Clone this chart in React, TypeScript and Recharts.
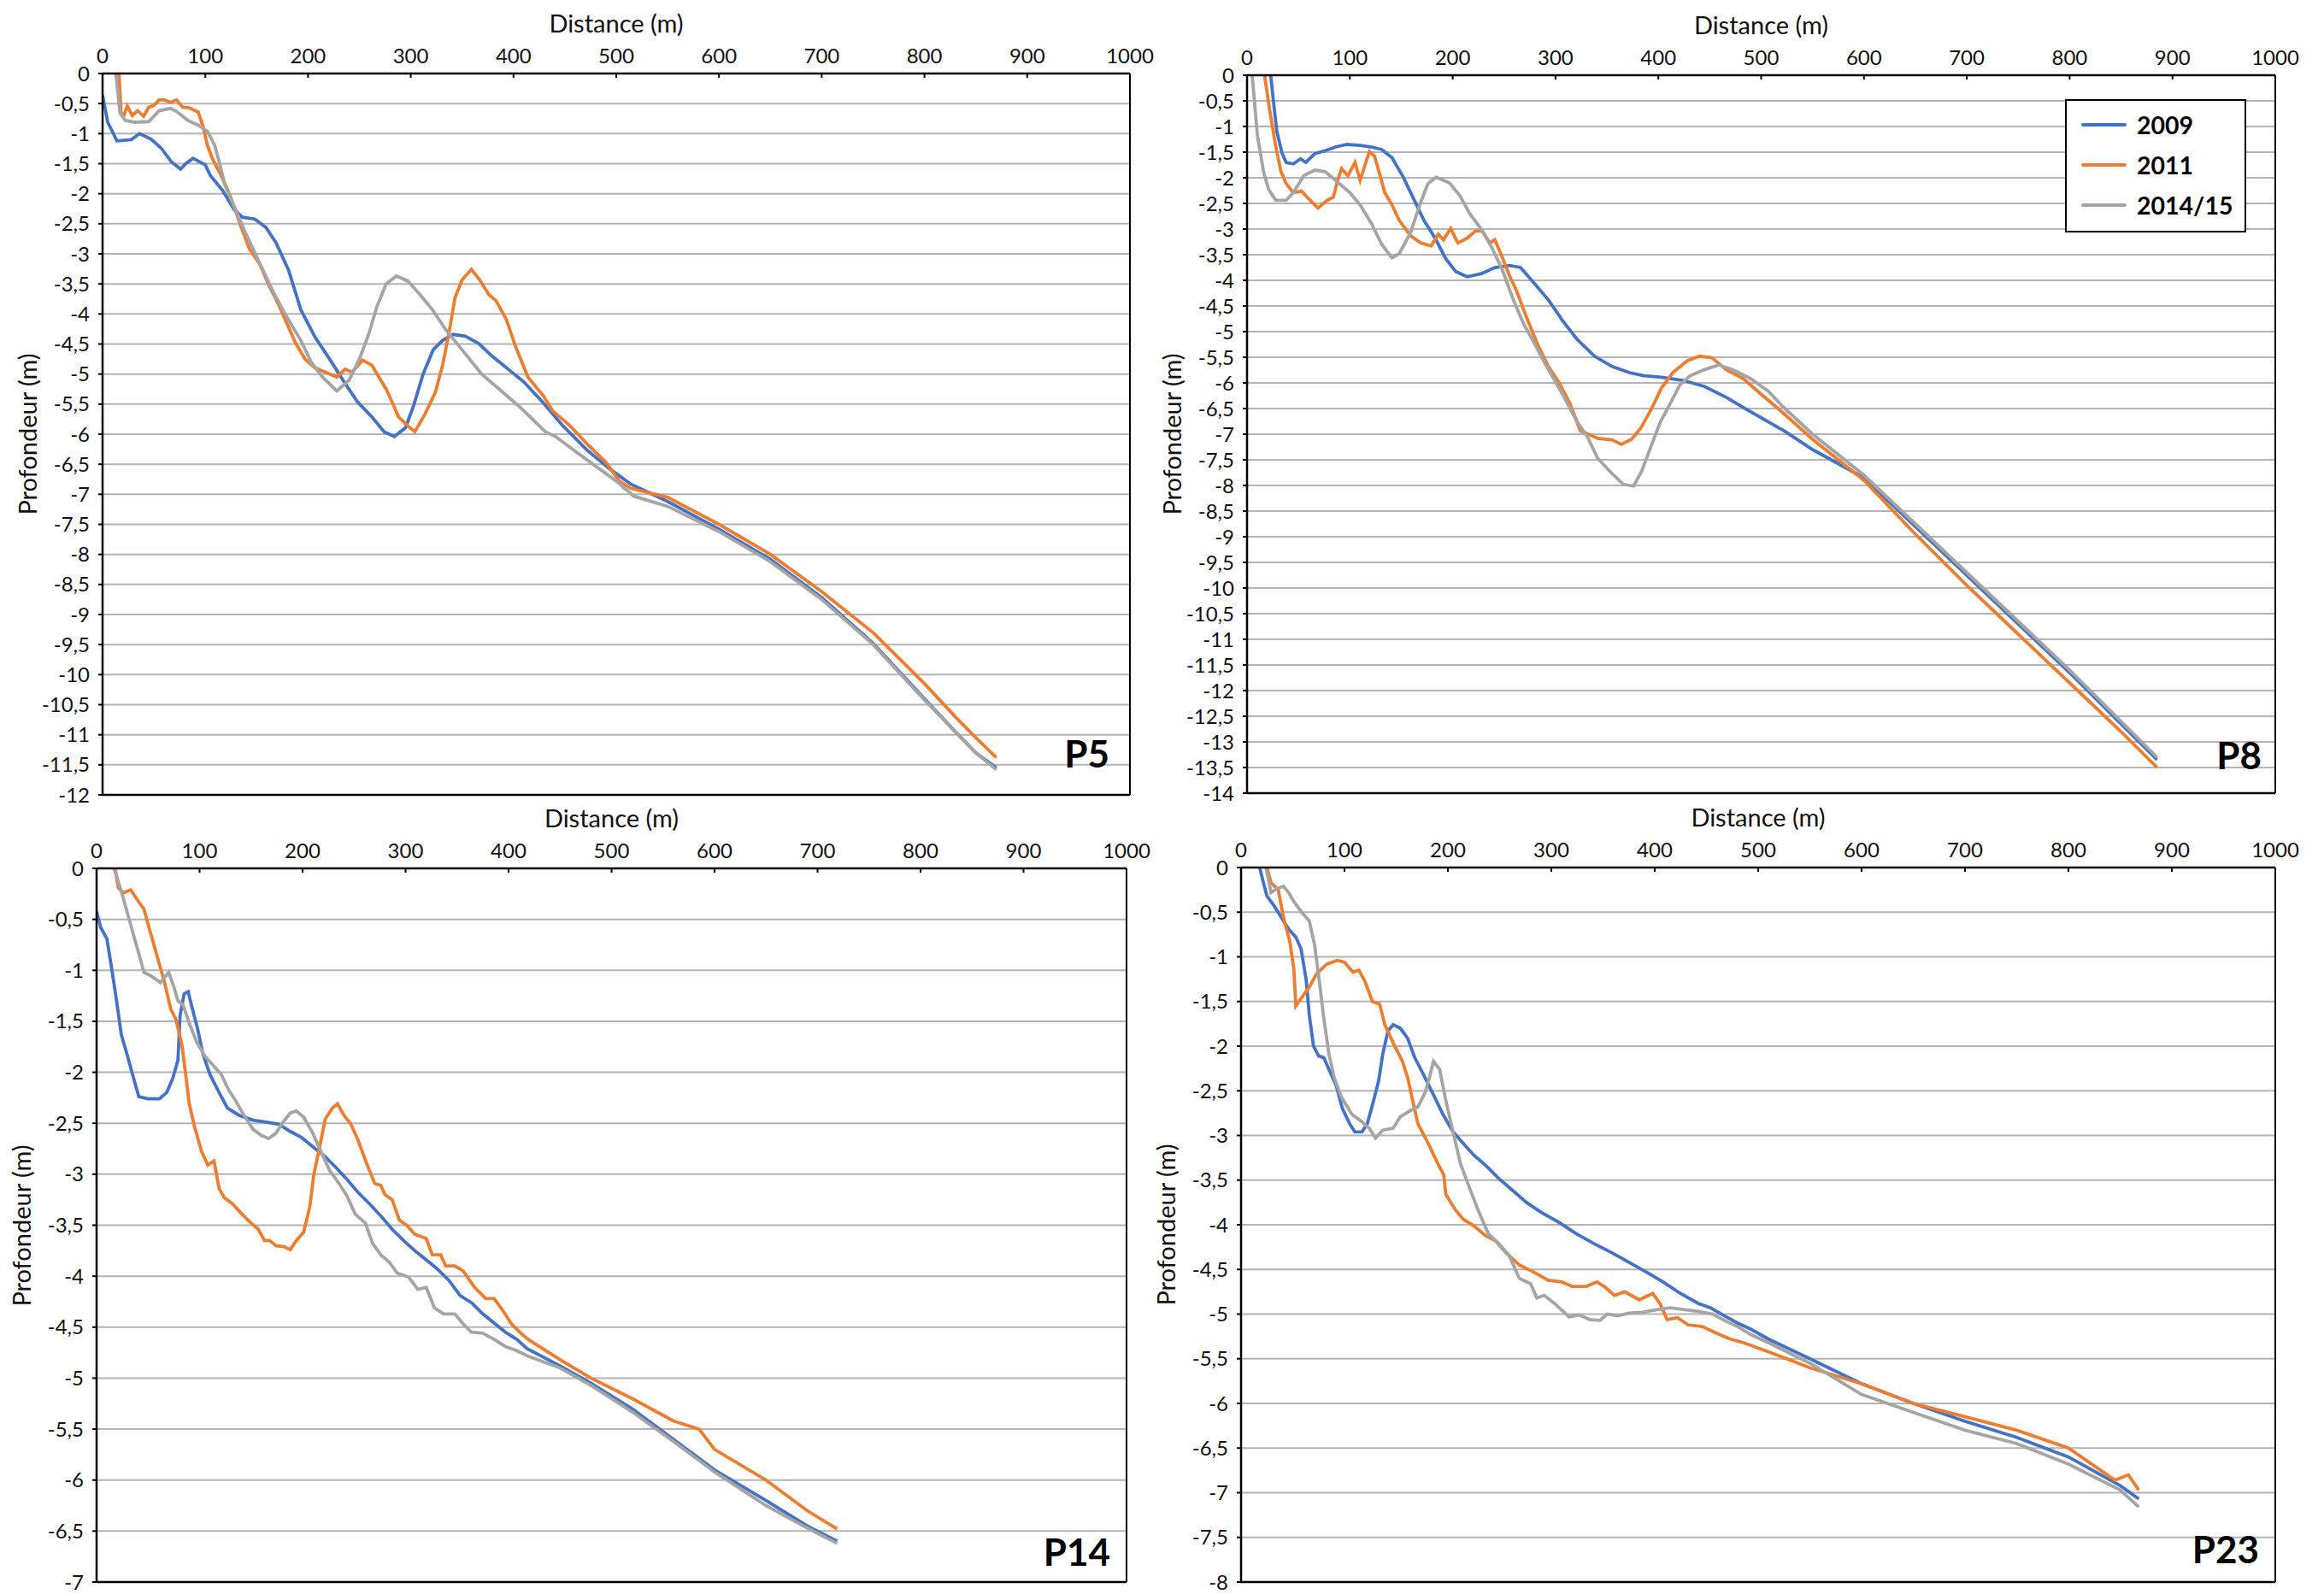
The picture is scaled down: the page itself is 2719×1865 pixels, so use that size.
import React from "react";
import {
  LineChart,
  Line,
  XAxis,
  YAxis,
  CartesianGrid,
  ReferenceLine,
  Legend,
} from "recharts";

type Pt = [number, number];

const SERIES_NAMES = ["2009", "2011", "2014/15"];
const SERIES_COLORS = ["#4472C4", "#ED7D31", "#A5A5A5"];
const X_TICKS = [0, 100, 200, 300, 400, 500, 600, 700, 800, 900, 1000];

// P5 profiles (distance m, depth m)
const P5_2009: Pt[] = [
  [0, -0.36], [5, -0.81], [14, -1.12], [28, -1.1], [36, -1.0], [47, -1.09], [57, -1.24],
  [67, -1.47], [76, -1.59], [81, -1.5], [88, -1.41], [100, -1.52], [105, -1.7], [117, -1.95],
  [128, -2.26], [136, -2.39], [148, -2.42], [159, -2.56], [169, -2.82], [181, -3.27],
  [193, -3.93], [207, -4.39], [221, -4.75], [234, -5.1], [248, -5.46], [262, -5.71],
  [274, -5.96], [284, -6.04], [295, -5.89], [303, -5.51], [312, -5.0], [322, -4.59],
  [331, -4.44], [341, -4.34], [353, -4.37], [366, -4.49], [379, -4.7], [397, -4.95],
  [410, -5.13], [428, -5.46], [448, -5.86], [472, -6.27], [493, -6.57], [514, -6.83],
  [550, -7.12], [600, -7.58], [650, -8.08], [700, -8.72], [750, -9.48], [800, -10.4],
  [830, -10.95], [850, -11.3], [870, -11.55],
];
const P5_2011: Pt[] = [
  [16, 0], [18, -0.66], [21, -0.69], [24, -0.54], [29, -0.7], [34, -0.62], [40, -0.71],
  [45, -0.56], [50, -0.53], [55, -0.44], [60, -0.44], [66, -0.48], [72, -0.44], [78, -0.56],
  [84, -0.57], [93, -0.64], [98, -0.89], [102, -1.19], [107, -1.42], [114, -1.65],
  [121, -1.9], [128, -2.21], [134, -2.51], [143, -2.92], [153, -3.17], [162, -3.53],
  [171, -3.83], [179, -4.14], [188, -4.49], [197, -4.75], [207, -4.9], [217, -4.97],
  [228, -5.05], [236, -4.92], [243, -4.97], [253, -4.77], [262, -4.85], [269, -5.05],
  [276, -5.25], [283, -5.51], [288, -5.71], [297, -5.86], [304, -5.96], [314, -5.66],
  [324, -5.3], [331, -4.85], [338, -4.24], [343, -3.73], [350, -3.43], [359, -3.26],
  [367, -3.43], [376, -3.68], [383, -3.78], [393, -4.09], [402, -4.54], [414, -5.05],
  [429, -5.36], [438, -5.61], [455, -5.86], [472, -6.17], [490, -6.47], [503, -6.78],
  [514, -6.9], [550, -7.05], [600, -7.5], [650, -8.0], [700, -8.62], [750, -9.3],
  [800, -10.15], [830, -10.7], [850, -11.05], [870, -11.38],
];
const P5_2014: Pt[] = [
  [13, 0], [17, -0.66], [22, -0.78], [31, -0.81], [45, -0.8], [55, -0.62], [66, -0.58],
  [72, -0.63], [83, -0.78], [93, -0.86], [102, -0.96], [109, -1.19], [114, -1.5],
  [119, -1.85], [128, -2.21], [138, -2.61], [152, -3.12], [166, -3.63], [179, -4.04],
  [193, -4.44], [203, -4.8], [214, -5.05], [228, -5.28], [240, -5.1], [250, -4.75],
  [259, -4.34], [267, -3.88], [276, -3.5], [286, -3.37], [297, -3.45], [309, -3.68],
  [321, -3.93], [334, -4.26], [352, -4.64], [369, -5.0], [386, -5.25], [407, -5.56],
  [431, -5.96], [441, -6.04], [459, -6.27], [479, -6.52], [500, -6.78], [517, -7.03],
  [550, -7.2], [600, -7.62], [650, -8.12], [700, -8.75], [750, -9.5], [800, -10.42],
  [850, -11.3], [870, -11.58],
];

// P8 profiles
const P8_2009: Pt[] = [
  [23, 0], [26, -0.57], [29, -1.1], [34, -1.52], [38, -1.7], [45, -1.73], [52, -1.63],
  [57, -1.7], [66, -1.53], [76, -1.47], [86, -1.4], [97, -1.35], [110, -1.37], [121, -1.4],
  [131, -1.45], [141, -1.61], [152, -1.99], [162, -2.41], [172, -2.83], [183, -3.18],
  [193, -3.57], [203, -3.83], [214, -3.93], [228, -3.87], [241, -3.75], [255, -3.71],
  [266, -3.75], [279, -4.05], [293, -4.38], [307, -4.79], [321, -5.15], [338, -5.48],
  [355, -5.68], [372, -5.8], [386, -5.86], [403, -5.89], [424, -5.95], [445, -6.07],
  [466, -6.28], [486, -6.52], [507, -6.76], [522, -6.93], [550, -7.3], [600, -7.85],
  [650, -8.8], [700, -9.75], [750, -10.7], [800, -11.65], [850, -12.65], [885, -13.35],
];
const P8_2011: Pt[] = [
  [17, 0], [22, -0.68], [28, -1.4], [33, -1.88], [38, -2.11], [45, -2.29], [53, -2.26],
  [60, -2.41], [69, -2.59], [78, -2.44], [84, -2.38], [88, -2.05], [92, -1.82], [98, -1.96],
  [105, -1.7], [110, -2.05], [116, -1.67], [119, -1.49], [124, -1.58], [129, -1.93],
  [134, -2.29], [141, -2.53], [148, -2.83], [159, -3.13], [169, -3.27], [179, -3.33],
  [186, -3.1], [191, -3.21], [198, -2.99], [205, -3.27], [214, -3.18], [222, -3.04],
  [229, -3.04], [236, -3.27], [241, -3.21], [248, -3.54], [255, -3.9], [262, -4.2],
  [272, -4.73], [283, -5.27], [293, -5.68], [303, -5.98], [314, -6.4], [324, -6.93],
  [341, -7.08], [355, -7.11], [364, -7.2], [374, -7.1], [383, -6.88], [393, -6.52],
  [403, -6.1], [414, -5.8], [428, -5.57], [440, -5.48], [452, -5.51], [466, -5.74],
  [483, -5.92], [500, -6.22], [521, -6.58], [550, -7.1], [600, -7.9], [650, -8.95],
  [700, -9.95], [750, -10.9], [800, -11.85], [850, -12.8], [885, -13.5],
];
const P8_2014: Pt[] = [
  [5, 0], [10, -1.16], [16, -1.88], [21, -2.23], [28, -2.44], [38, -2.44], [45, -2.29],
  [55, -1.96], [66, -1.85], [76, -1.88], [86, -2.05], [100, -2.29], [110, -2.53],
  [121, -2.89], [131, -3.3], [141, -3.56], [148, -3.48], [159, -3.07], [169, -2.47],
  [176, -2.11], [184, -1.99], [197, -2.1], [207, -2.35], [217, -2.71], [228, -3.01],
  [238, -3.36], [248, -3.78], [259, -4.38], [269, -4.85], [279, -5.21], [290, -5.63],
  [300, -5.98], [310, -6.34], [321, -6.76], [331, -7.05], [341, -7.47], [355, -7.77],
  [366, -7.98], [376, -8.01], [384, -7.71], [393, -7.23], [402, -6.76], [410, -6.46],
  [421, -6.04], [431, -5.86], [445, -5.74], [459, -5.65], [472, -5.74], [490, -5.92],
  [507, -6.16], [521, -6.46], [550, -7.0], [600, -7.8], [650, -8.75], [700, -9.7],
  [750, -10.65], [800, -11.6], [850, -12.6], [885, -13.3],
];

// P14 profiles
const P14_2009: Pt[] = [
  [0, -0.42], [4, -0.58], [10, -0.69], [14, -0.94], [19, -1.27], [24, -1.63], [30, -1.84],
  [36, -2.06], [41, -2.24], [50, -2.26], [61, -2.26], [68, -2.2], [74, -2.06], [79, -1.88],
  [81, -1.45], [85, -1.23], [89, -1.21], [92, -1.34], [98, -1.57], [103, -1.81],
  [110, -2.02], [119, -2.2], [127, -2.35], [138, -2.42], [152, -2.47], [166, -2.49],
  [177, -2.51], [188, -2.58], [199, -2.64], [210, -2.73], [221, -2.82], [232, -2.93],
  [243, -3.05], [254, -3.18], [265, -3.29], [276, -3.41], [287, -3.54], [298, -3.65],
  [309, -3.75], [320, -3.84], [331, -3.93], [342, -4.04], [353, -4.19], [364, -4.26],
  [375, -4.37], [386, -4.46], [397, -4.55], [408, -4.62], [418, -4.71], [450, -4.88],
  [480, -5.05], [520, -5.3], [560, -5.6], [600, -5.9], [650, -6.2], [690, -6.45],
  [719, -6.6],
];
const P14_2011: Pt[] = [
  [18, 0], [21, -0.19], [26, -0.24], [33, -0.21], [39, -0.3], [46, -0.4], [52, -0.62],
  [59, -0.87], [66, -1.12], [72, -1.38], [77, -1.48], [83, -1.74], [87, -2.06], [90, -2.31],
  [95, -2.53], [102, -2.78], [108, -2.91], [114, -2.87], [119, -3.14], [124, -3.23],
  [132, -3.29], [141, -3.39], [149, -3.47], [157, -3.54], [163, -3.65], [168, -3.65],
  [174, -3.7], [182, -3.71], [188, -3.74], [194, -3.65], [201, -3.57], [207, -3.32],
  [211, -3.0], [217, -2.71], [222, -2.46], [229, -2.35], [234, -2.31], [240, -2.42],
  [247, -2.51], [254, -2.67], [262, -2.89], [270, -3.09], [276, -3.11], [280, -3.2],
  [287, -3.25], [294, -3.45], [301, -3.5], [309, -3.59], [320, -3.63], [326, -3.79],
  [334, -3.79], [339, -3.9], [348, -3.9], [356, -3.95], [367, -4.11], [378, -4.22],
  [386, -4.22], [394, -4.33], [403, -4.47], [411, -4.55], [419, -4.62], [450, -4.82],
  [480, -5.0], [520, -5.2], [560, -5.42], [585, -5.5], [600, -5.7], [650, -6.0],
  [690, -6.3], [719, -6.48],
];
const P14_2014: Pt[] = [
  [17, 0], [25, -0.26], [33, -0.55], [40, -0.8], [46, -1.02], [52, -1.05], [62, -1.12],
  [70, -1.02], [75, -1.16], [79, -1.3], [84, -1.34], [90, -1.52], [97, -1.7], [105, -1.84],
  [113, -1.93], [121, -2.02], [128, -2.17], [135, -2.28], [143, -2.42], [152, -2.56],
  [160, -2.62], [167, -2.65], [174, -2.6], [181, -2.49], [188, -2.4], [194, -2.38],
  [201, -2.44], [210, -2.6], [218, -2.78], [226, -2.96], [234, -3.07], [243, -3.21],
  [251, -3.39], [261, -3.48], [268, -3.68], [276, -3.79], [284, -3.86], [292, -3.97],
  [303, -4.01], [312, -4.13], [320, -4.11], [328, -4.31], [337, -4.37], [348, -4.37],
  [356, -4.47], [364, -4.55], [375, -4.56], [386, -4.62], [397, -4.69], [408, -4.73],
  [418, -4.78], [450, -4.9], [480, -5.07], [520, -5.33], [560, -5.62], [600, -5.92],
  [650, -6.25], [690, -6.47], [719, -6.62],
];

// P23 profiles
const P23_2009: Pt[] = [
  [18, 0], [21, -0.14], [25, -0.32], [32, -0.43], [39, -0.56], [46, -0.69], [53, -0.78],
  [58, -0.91], [63, -1.26], [66, -1.65], [70, -2.0], [75, -2.11], [80, -2.13], [85, -2.26],
  [92, -2.44], [98, -2.7], [105, -2.87], [110, -2.96], [117, -2.96], [122, -2.87],
  [127, -2.66], [133, -2.39], [137, -2.09], [142, -1.83], [147, -1.76], [154, -1.8],
  [161, -1.91], [168, -2.13], [176, -2.31], [185, -2.52], [195, -2.76], [205, -2.96],
  [215, -3.09], [225, -3.22], [236, -3.33], [249, -3.48], [263, -3.62], [276, -3.75],
  [290, -3.86], [307, -3.97], [324, -4.1], [341, -4.21], [358, -4.31], [375, -4.42],
  [392, -4.53], [408, -4.64], [425, -4.77], [442, -4.88], [454, -4.93], [466, -5.01],
  [480, -5.1], [493, -5.17], [510, -5.28], [550, -5.5], [600, -5.78], [650, -6.0],
  [700, -6.2], [750, -6.38], [800, -6.6], [850, -6.92], [868, -7.07],
];
const P23_2011: Pt[] = [
  [25, 0], [29, -0.17], [36, -0.25], [41, -0.56], [47, -0.82], [51, -1.13], [53, -1.55],
  [59, -1.45], [66, -1.34], [73, -1.19], [83, -1.08], [93, -1.04], [100, -1.06],
  [108, -1.17], [114, -1.15], [120, -1.28], [127, -1.5], [134, -1.53], [139, -1.76],
  [147, -1.96], [156, -2.17], [161, -2.35], [166, -2.61], [171, -2.87], [181, -3.09],
  [190, -3.31], [196, -3.44], [198, -3.66], [207, -3.83], [215, -3.94], [225, -4.01],
  [236, -4.12], [246, -4.18], [256, -4.31], [269, -4.45], [283, -4.53], [297, -4.62],
  [310, -4.64], [320, -4.69], [334, -4.69], [344, -4.64], [351, -4.69], [361, -4.79],
  [371, -4.75], [385, -4.84], [398, -4.77], [405, -4.88], [412, -5.06], [422, -5.04],
  [432, -5.12], [446, -5.14], [459, -5.21], [473, -5.28], [486, -5.32], [500, -5.38],
  [512, -5.43], [550, -5.6], [600, -5.78], [650, -6.0], [700, -6.15], [750, -6.3],
  [800, -6.5], [845, -6.86], [858, -6.8], [868, -6.97],
];
const P23_2014: Pt[] = [
  [24, 0], [29, -0.28], [34, -0.24], [41, -0.21], [46, -0.28], [51, -0.38], [58, -0.49],
  [66, -0.6], [71, -0.86], [76, -1.3], [80, -1.69], [85, -2.09], [90, -2.35], [97, -2.57],
  [107, -2.76], [117, -2.85], [124, -2.92], [130, -3.03], [137, -2.94], [147, -2.92],
  [154, -2.79], [164, -2.72], [171, -2.68], [178, -2.52], [183, -2.31], [186, -2.17],
  [192, -2.26], [198, -2.61], [205, -2.96], [212, -3.31], [219, -3.53], [229, -3.83],
  [239, -4.1], [249, -4.21], [259, -4.34], [269, -4.6], [280, -4.66], [286, -4.82],
  [293, -4.79], [303, -4.88], [317, -5.03], [327, -5.01], [337, -5.06], [347, -5.07],
  [354, -5.0], [364, -5.02], [375, -4.99], [388, -4.98], [402, -4.95], [415, -4.93],
  [429, -4.95], [442, -4.97], [456, -5.0], [469, -5.08], [480, -5.14], [493, -5.23],
  [510, -5.32], [550, -5.55], [600, -5.9], [650, -6.1], [700, -6.3], [750, -6.45],
  [800, -6.68], [850, -6.97], [868, -7.16],
];

// layout (page pixels of each plot area)
const PANELS = [
  { id: "P5", minY: -12, data: [P5_2009, P5_2011, P5_2014], left: 120, top: 86, right: 1322, bottom: 930, labelX: 1298, labelY: 900, legend: false },
  { id: "P8", minY: -14, data: [P8_2009, P8_2011, P8_2014], left: 1459, top: 88, right: 2662, bottom: 928, labelX: 2646, labelY: 902, legend: true },
  { id: "P14", minY: -7, data: [P14_2009, P14_2011, P14_2014], left: 113, top: 1016, right: 1318, bottom: 1851, labelX: 1299, labelY: 1834, legend: false },
  { id: "P23", minY: -8, data: [P23_2009, P23_2011, P23_2014], left: 1452, top: 1015, right: 2662, bottom: 1851, labelX: 2643, labelY: 1831, legend: false },
];

const AXIS_W = 110;
const AXIS_H = 86;
const FONT = "Lato, 'Open Sans', sans-serif";
const tickStyle = { fontSize: 24, fill: "#111", fontFamily: FONT };

const fmtDepth = (v: number) => (v === 0 ? "0" : String(v).replace(".", ","));

function LegendBox() {
  return (
    <div
      style={{
        position: "relative",
        width: 212,
        height: 156,
        boxSizing: "border-box",
        border: "2px solid #000",
        background: "#fff",
        fontFamily: FONT,
      }}
    >
      {SERIES_NAMES.map((n, i) => (
        <div key={n} style={{ position: "absolute", left: 17, top: 28 + i * 47 - 18, height: 36, display: "flex", alignItems: "center" }}>
          <div style={{ width: 53, height: 4, borderRadius: 2, background: SERIES_COLORS[i] }} />
          <span style={{ marginLeft: 12, fontSize: 28.5, fontWeight: 700, color: "#000" }}>{n}</span>
        </div>
      ))}
    </div>
  );
}

function Panel({ cfg }: { cfg: (typeof PANELS)[number] }) {
  const w = cfg.right - cfg.left;
  const h = cfg.bottom - cfg.top;
  const yTicks: number[] = [];
  for (let v = cfg.minY; v <= 0.001; v += 0.5) yTicks.push(Math.round(v * 10) / 10);
  const chartLeft = cfg.left - AXIS_W;
  const chartTop = cfg.top - AXIS_H;

  return (
    <>
      <div style={{ position: "absolute", left: chartLeft, top: chartTop }}>
        <LineChart
          width={w + AXIS_W + 40}
          height={h + AXIS_H + 14}
          margin={{ top: 0, right: 40, bottom: 14, left: 0 }}
        >
          <CartesianGrid vertical={false} stroke="#b4b4b4" strokeWidth={2} />
          <XAxis
            type="number"
            dataKey="x"
            orientation="top"
            domain={[0, 1000]}
            ticks={X_TICKS}
            interval={0}
            height={AXIS_H}
            tick={tickStyle}
            tickSize={-5}
            tickMargin={17}
            axisLine={{ stroke: "#000", strokeWidth: 2.5 }}
            tickLine={{ stroke: "#000", strokeWidth: 2 }}
            allowDataOverflow
          />
          <YAxis
            type="number"
            domain={[cfg.minY, 0]}
            ticks={yTicks}
            interval={0}
            width={AXIS_W}
            tick={tickStyle}
            tickFormatter={fmtDepth}
            tickSize={5}
            tickMargin={10}
            axisLine={{ stroke: "#000", strokeWidth: 2.5 }}
            tickLine={{ stroke: "#000", strokeWidth: 2 }}
            allowDataOverflow
          />
          <ReferenceLine x={1000} stroke="#000" strokeWidth={2} />
          <ReferenceLine y={cfg.minY} stroke="#000" strokeWidth={2.5} />
          {cfg.data.map((pts, i) => (
            <Line
              key={SERIES_NAMES[i]}
              name={SERIES_NAMES[i]}
              data={pts.map(([x, y]) => ({ x, y }))}
              dataKey="y"
              type="linear"
              stroke={SERIES_COLORS[i]}
              strokeWidth={3.8}
              dot={false}
              activeDot={false}
              isAnimationActive={false}
            />
          ))}
          {cfg.legend && (
            <Legend
              layout="horizontal"
              verticalAlign="middle"
              align="center"
              wrapperStyle={{ left: 2416 - chartLeft, top: 116 - chartTop, width: 212, height: 156 }}
              content={() => <LegendBox />}
            />
          )}
        </LineChart>
      </div>
      <div
        style={{
          position: "absolute",
          left: (cfg.left + cfg.right) / 2,
          top: cfg.top - 60,
          transform: "translate(-50%, -50%)",
          fontSize: 29,
          fontFamily: FONT,
          whiteSpace: "nowrap",
          color: "#111",
        }}
      >
        Distance (m)
      </div>
      <div
        style={{
          position: "absolute",
          left: cfg.left - 89,
          top: (cfg.top + cfg.bottom) / 2,
          transform: "translate(-50%, -50%) rotate(-90deg)",
          fontSize: 29,
          fontFamily: FONT,
          whiteSpace: "nowrap",
          color: "#111",
        }}
      >
        Profondeur (m)
      </div>
      <div
        style={{
          position: "absolute",
          right: 2719 - cfg.labelX,
          top: cfg.labelY - 44,
          fontSize: 44,
          lineHeight: "50px",
          fontWeight: 700,
          fontFamily: FONT,
          color: "#000",
        }}
      >
        {cfg.id}
      </div>
    </>
  );
}

export default function App() {
  return (
    <div
      style={{
        position: "absolute",
        left: 0,
        top: 0,
        width: 2719,
        height: 1865,
        background: "#fff",
        fontFamily: FONT,
        overflow: "hidden",
      }}
    >
      {PANELS.map((p) => (
        <Panel key={p.id} cfg={p} />
      ))}
    </div>
  );
}
